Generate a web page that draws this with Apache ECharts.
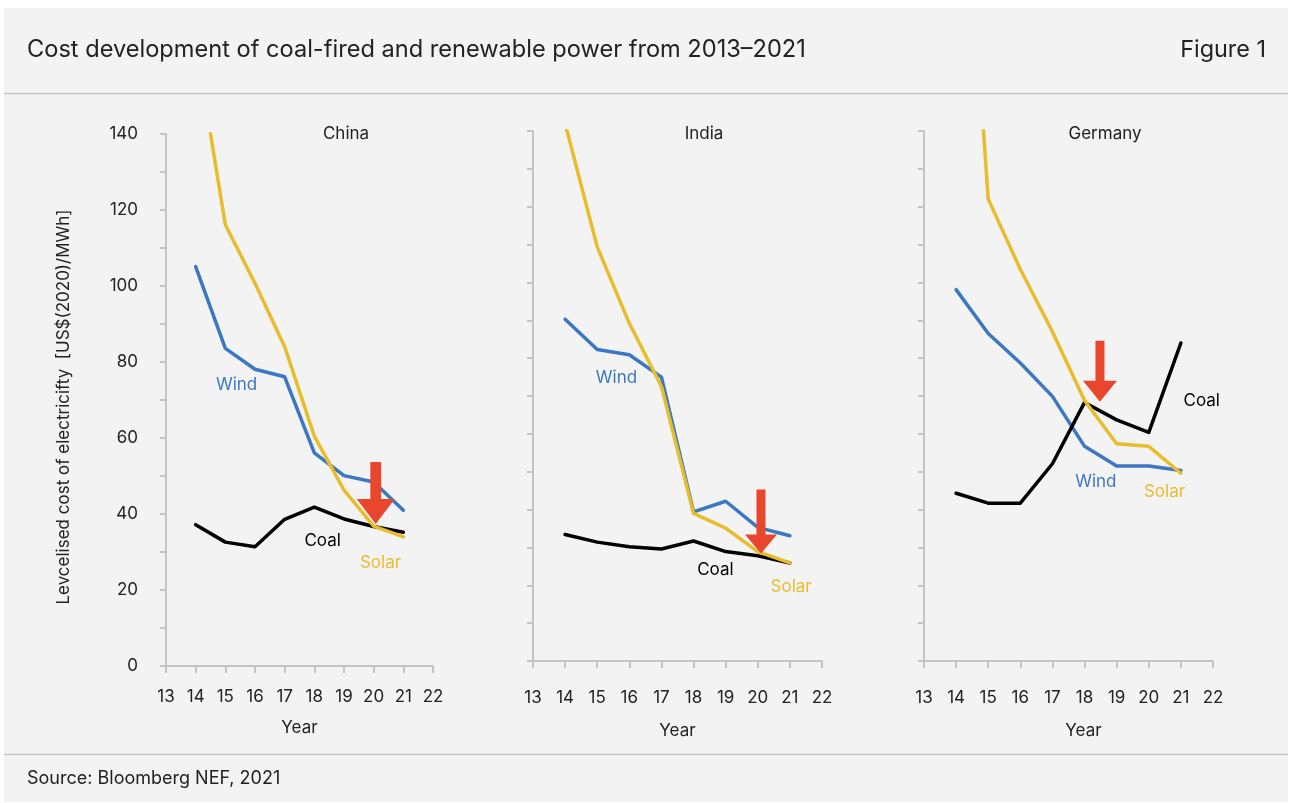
<!DOCTYPE html>
<html>
<head>
<meta charset="utf-8">
<script src="https://cdn.jsdelivr.net/npm/echarts@6/dist/echarts.min.js"></script>
<style>
  html, body { margin: 0; padding: 0; background: #ffffff; }
  #chart { width: 1290px; height: 803px; }
</style>
</head>
<body>
<div id="chart"></div>
<script>
// ---- Data ----
const years = [14, 15, 16, 17, 18, 19, 20, 21];
const xTicks = [13, 14, 15, 16, 17, 18, 19, 20, 21, 22];

const chinaCoal  = [37.2, 32.6, 31.4, 38.6, 41.8, 38.7, 36.7, 35.2];
const chinaWind  = [105.1, 83.6, 78.1, 76.1, 56.1, 50.1, 48.4, 41.0];
const chinaSolar = [164, 116.1, 100.7, 84.0, 60.5, 46.3, 36.8, 34.0];

const indiaCoal  = [33.4, 31.4, 30.2, 29.6, 31.7, 28.9, 27.8, 25.9];
const indiaWind  = [90.3, 82.3, 80.9, 75.0, 39.4, 42.2, 35.3, 33.1];
const indiaSolar = [142, 109.4, 89.2, 72.5, 39.0, 35.1, 28.9, 25.9];

const germanyCoal  = [44.3, 41.7, 41.7, 52.1, 68.3, 63.7, 60.4, 84.0];
const germanyWind  = [98.1, 86.5, 78.7, 69.9, 56.7, 51.5, 51.5, 50.3];
const germanySolar = [244, 122, 103.5, 87, 68.8, 57.4, 56.7, 49.6];

const panelNames = ['China', 'India', 'Germany'];
// arrow tips [year, value]
const arrowTips = [[20.07, 37.4], [20.1, 28.4], [18.48, 68.5]];
// label anchors [year, value]
const windLabelPos  = [[15.38, 73.9], [15.6, 74.7], [18.35, 47.4]];
const coalLabelPos  = [[18.28, 32.9], [18.68, 24.1], [21.65, 68.8]];
const solarLabelPos = [[20.23, 27.1], [21.04, 19.6], [20.49, 44.8]];

const titleText = 'Cost development of coal-fired and renewable power from 2013\u20132021';
const figureText = 'Figure 1';
const sourceText = 'Source: Bloomberg NEF, 2021';
const yAxisName = 'Levcelised cost of electricifty  [US$(2020)/MWh]';
const xAxisName = 'Year';

// ---- Styles ----
const FONT = 'Inter, "Noto Sans", sans-serif';
const C_WIND = '#3B77C2';
const C_SOLAR = '#E8BD2C';
const C_COAL = '#000000';
const C_ARROW = '#E8472E';
const C_AXIS = '#C4C4C4';
const C_TEXT = '#222222';

const grids = [
  { left: 166, top: 134, width: 267, height: 532 },
  { left: 533, top: 131, width: 289, height: 530 },
  { left: 924, top: 131, width: 289, height: 530 }
];
const xLabelMargin = [22, 28, 28];
const xNameGap = [53, 61, 61];
const xNamePadding = [[0, 0, 0, 0], [0, 0, 0, 0], [0, 0, 0, 30]];

const seriesData = [
  [chinaWind, chinaCoal, chinaSolar],
  [indiaWind, indiaCoal, indiaSolar],
  [germanyWind, germanyCoal, germanySolar]
];

const xAxes = grids.map((g, i) => ({
  type: 'value', gridIndex: i, min: 13, max: 22, interval: 1,
  axisLine: { show: true, lineStyle: { color: C_AXIS, width: 2 } },
  axisTick: { show: true, length: 7, lineStyle: { color: C_AXIS, width: 2 } },
  axisLabel: { color: C_TEXT, fontSize: 17, fontFamily: FONT, margin: xLabelMargin[i], showMinLabel: true, showMaxLabel: true },
  splitLine: { show: false },
  name: xAxisName, nameLocation: 'middle', nameGap: xNameGap[i],
  nameTextStyle: { color: C_TEXT, fontSize: 17, fontFamily: FONT, padding: xNamePadding[i] }
}));

const yAxes = grids.map((g, i) => ({
  type: 'value', gridIndex: i, min: 0, max: 140, interval: 10,
  axisLine: { show: true, lineStyle: { color: C_AXIS, width: 2 } },
  axisTick: { show: true, length: 6, lineStyle: { color: C_AXIS, width: 2 } },
  axisLabel: {
    show: i === 0, color: C_TEXT, fontSize: 17, fontFamily: FONT, margin: 28,
    formatter: v => (v % 20 === 0 ? String(v) : '')
  },
  splitLine: { show: false }
}));

function labelPoint(pos, text, color) {
  return {
    coord: pos, symbol: 'circle', symbolSize: 0,
    label: { show: true, position: 'inside', formatter: text, color: color, fontSize: 17, fontFamily: FONT }
  };
}

const series = [];
seriesData.forEach((sets, i) => {
  const [wind, coal, solar] = sets;
  const mk = (name, vals, color, lbl) => ({
    name: name, type: 'line', xAxisIndex: i, yAxisIndex: i,
    data: years.map((y, k) => [y, vals[k]]),
    symbol: 'none', clip: true, silent: true, animation: false,
    lineStyle: { color: color, width: 3.5, cap: 'round', join: 'round' },
    markPoint: { silent: true, animation: false, data: [labelPoint(lbl, name, color)] }
  });
  series.push(mk('Wind', wind, C_WIND, windLabelPos[i]));
  series.push(mk('Coal', coal, C_COAL, coalLabelPos[i]));
  series.push(mk('Solar', solar, C_SOLAR, solarLabelPos[i]));
});

const arrowSizes = [[38, 62], [32, 64], [34, 61]];
const arrowPaths = [
  'path://M13.6,0 L24.4,0 L24.4,37 L38,37 L19,62 L0,37 L13.6,37 Z',
  'path://M11.5,0 L20.5,0 L20.5,45 L32,45 L16,64 L0,45 L11.5,45 Z',
  'path://M12.5,0 L21.5,0 L21.5,40 L34,40 L17,61 L0,40 L12.5,40 Z'
];
arrowTips.forEach((tip, i) => {
  series.push({
    type: 'scatter', xAxisIndex: i, yAxisIndex: i, z: 10, silent: true, animation: false, clip: false,
    data: [tip],
    symbol: arrowPaths[i], symbolSize: arrowSizes[i], symbolKeepAspect: false,
    symbolOffset: [0, '-50%'],
    itemStyle: { color: C_ARROW, opacity: 1 }
  });
});

const panelTitleX = [346, 704, 1105];
const graphic = [
  { type: 'rect', shape: { x: 4, y: 8, width: 1284, height: 794 }, style: { fill: '#F3F3F3' }, z: -10, silent: true },
  { type: 'line', shape: { x1: 4, y1: 93.5, x2: 1288, y2: 93.5 }, style: { stroke: '#C6C6C6', lineWidth: 1.5 }, silent: true },
  { type: 'line', shape: { x1: 4, y1: 754.5, x2: 1288, y2: 754.5 }, style: { stroke: '#C6C6C6', lineWidth: 1.5 }, silent: true },
  { type: 'text', x: 27, y: 50, style: { text: titleText, fill: C_TEXT, fontSize: 23.6, fontFamily: FONT, verticalAlign: 'middle' }, silent: true },
  { type: 'text', x: 1266, y: 50, style: { text: figureText, fill: C_TEXT, fontSize: 23.4, fontFamily: FONT, align: 'right', verticalAlign: 'middle' }, silent: true },
  { type: 'text', x: 27, y: 779, style: { text: sourceText, fill: C_TEXT, fontSize: 18, fontFamily: FONT, verticalAlign: 'middle' }, silent: true },
  { type: 'text', x: 64, y: 407, rotation: Math.PI / 2, style: { text: yAxisName, fill: C_TEXT, fontSize: 17, fontFamily: FONT, align: 'center', verticalAlign: 'middle' }, silent: true }
];
panelNames.forEach((n, i) => {
  graphic.push({ type: 'text', x: panelTitleX[i], y: 134, style: { text: n, fill: C_TEXT, fontSize: 17, fontFamily: FONT, align: 'center', verticalAlign: 'middle' }, silent: true });
});

const chart = echarts.init(document.getElementById('chart'), null, { renderer: 'canvas' });
chart.setOption({
  backgroundColor: '#ffffff',
  animation: false,
  textStyle: { fontFamily: FONT },
  grid: grids,
  xAxis: xAxes,
  yAxis: yAxes,
  series: series,
  graphic: graphic
});
</script>
</body>
</html>
